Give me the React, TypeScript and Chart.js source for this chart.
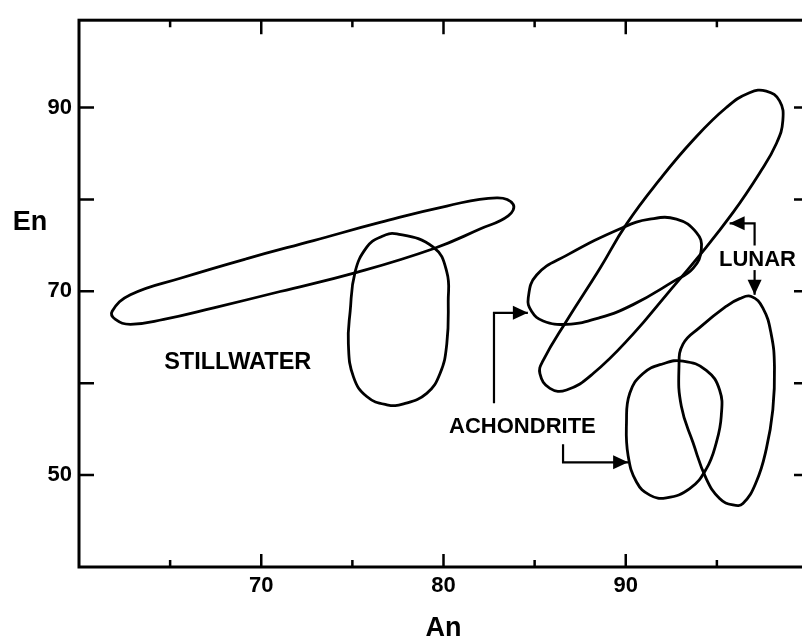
import React, { useEffect, useRef } from 'react';
import { Chart, registerables } from 'chart.js';

Chart.register(...registerables);

// ---- axes ----
const xMin = 60;
const xMax = 100;
const yMin = 40;
const yMax = 99.5;
const xLabelValues = [70, 80, 90];
const xMinorTicks = [65, 75, 85, 95];
const yTickValues = [50, 60, 70, 80, 90];
const yLabelValues = [50, 70, 90];
const xTitle = 'An';
const yTitle = 'En';

// ---- closed outlines [An, En] ----
const stillwaterBand = [
  [61.82, 67.83], [62.82, 69.62], [65.56, 71.42], [69.22, 73.56], [72.87, 75.52],
  [76.52, 77.49], [80.18, 79.28], [82.92, 80.17], [83.82, 79.46], [83.55, 78.2],
  [82.0, 76.78], [79.44, 74.63], [75.24, 72.06], [71.04, 69.98], [67.39, 68.2],
  [64.65, 66.94], [62.82, 66.41], [62.0, 66.94],
];
const stillwaterOval = [
  [77.44, 76.24], [79.44, 74.8], [80.18, 72.12], [80.26, 68.92], [80.18, 64.26],
  [79.81, 61.05], [79.08, 58.9], [77.81, 57.75], [76.89, 57.65], [75.79, 58.55],
  [75.06, 60.69], [74.78, 64.26], [74.88, 67.84], [75.15, 72.12], [75.79, 74.8],
  [76.52, 75.89],
];
const lunarBand = [
  [97.71, 91.79], [98.44, 90.72], [98.62, 88.57], [98.26, 86.06], [97.34, 82.85],
  [95.88, 78.56], [94.05, 73.91], [92.23, 69.62], [90.4, 65.34], [88.21, 61.05],
  [86.75, 59.26], [85.84, 59.44], [85.29, 61.05], [85.47, 62.48], [86.75, 66.77],
  [88.58, 72.49], [90.04, 77.31], [91.86, 82.14], [93.69, 86.43], [95.52, 90.0],
  [96.79, 91.61],
];
const achondriteUpper = [
  [84.65, 69.27], [85.11, 71.77], [86.75, 73.91], [89.85, 76.95], [91.32, 77.85],
  [92.78, 77.85], [93.87, 76.41], [94.15, 74.63], [93.69, 72.49], [92.59, 71.05],
  [90.4, 68.55], [88.58, 67.13], [86.75, 66.41], [85.47, 66.77], [84.83, 67.83],
];
const achondriteLower = [
  [93.14, 62.41], [94.42, 61.4], [95.15, 59.26], [95.24, 56.4], [94.97, 53.54],
  [94.42, 50.68], [93.51, 48.53], [92.23, 47.53], [91.32, 47.82], [90.59, 49.25],
  [90.13, 52.11], [90.04, 55.68], [90.22, 58.9], [90.95, 61.05], [92.05, 62.12],
];
const lunarLower = [
  [96.89, 69.44], [97.52, 68.2], [97.98, 65.34], [98.16, 61.76], [98.07, 57.11],
  [97.71, 52.82], [97.16, 49.25], [96.43, 46.92], [95.88, 46.75], [95.15, 47.46],
  [94.42, 49.6], [93.69, 53.54], [93.05, 57.48], [92.92, 61.76], [93.14, 64.26],
  [94.05, 66.05], [95.52, 68.38], [96.25, 69.2],
];

const outlines = [stillwaterBand, stillwaterOval, lunarBand, achondriteUpper, achondriteLower, lunarLower];
const outlineNames = ['Stillwater band', 'Stillwater oval', 'Lunar band', 'Achondrite upper', 'Achondrite lower', 'Lunar lower'];

// ---- annotations (data coordinates) ----
const labelTexts = ['STILLWATER', 'ACHONDRITE', 'LUNAR'];
const labelPositions = [[68.71, 62.23], [84.33, 55.25], [97.23, 73.38]];
const arrowAchondriteUp = [[82.77, 57.83], [82.77, 67.66], [84.63, 67.66]];
const arrowAchondriteDown = [[86.56, 53.36], [86.56, 51.39], [90.13, 51.39]];
const arrowLunarUp = [[97.07, 74.99], [97.07, 77.4], [95.7, 77.4]];
const arrowLunarDown = [[97.07, 72.31], [97.07, 69.62]];
const arrows = [arrowAchondriteUp, arrowAchondriteDown, arrowLunarUp, arrowLunarDown];

const FONT = '"Liberation Sans", Arial, Helvetica, sans-serif';
const LABEL_FONT_SIZES = [23.5, 22, 22];

const overlayPlugin = {
  id: 'overlay',
  afterDatasetsUpdate(chart: any) {
    chart.data.datasets.forEach((_: any, i: number) => {
      const meta = chart.getDatasetMeta(i);
      if (meta && meta.dataset) {
        meta.dataset._loop = true;
        meta.dataset._fullLoop = true;
      }
    });
  },
  afterDraw(chart: any) {
    const { ctx, chartArea: a } = chart;
    const x = chart.scales.x;
    const y = chart.scales.y;
    ctx.save();
    ctx.strokeStyle = '#000';
    ctx.fillStyle = '#000';

    // frame
    ctx.lineWidth = 3;
    ctx.lineCap = 'butt';
    ctx.strokeRect(a.left, a.top, a.right - a.left, a.bottom - a.top);

    // ticks
    ctx.lineWidth = 2.5;
    ctx.beginPath();
    yTickValues.forEach((v) => {
      const py = y.getPixelForValue(v);
      ctx.moveTo(a.left, py);
      ctx.lineTo(a.left + 15, py);
      ctx.moveTo(a.right, py);
      ctx.lineTo(a.right - 14, py);
    });
    xLabelValues.forEach((v) => {
      const px = x.getPixelForValue(v);
      ctx.moveTo(px, a.top);
      ctx.lineTo(px, a.top + 14);
      ctx.moveTo(px, a.bottom);
      ctx.lineTo(px, a.bottom - 13);
    });
    xMinorTicks.forEach((v) => {
      const px = x.getPixelForValue(v);
      ctx.moveTo(px, a.top);
      ctx.lineTo(px, a.top + 7);
      ctx.moveTo(px, a.bottom);
      ctx.lineTo(px, a.bottom - 7);
    });
    ctx.stroke();

    // axis titles
    ctx.font = `bold 27px ${FONT}`;
    ctx.textAlign = 'center';
    ctx.textBaseline = 'middle';
    ctx.fillText(yTitle, a.left - 49, 223);
    ctx.fillText(xTitle, (a.left + a.right) / 2, 629);

    // group labels
    labelTexts.forEach((t, i) => {
      const [vx, vy] = labelPositions[i];
      ctx.font = `bold ${LABEL_FONT_SIZES[i]}px ${FONT}`;
      ctx.fillText(t, x.getPixelForValue(vx), y.getPixelForValue(vy));
    });

    // arrows
    ctx.lineWidth = 2.2;
    arrows.forEach((pts) => {
      const pp = pts.map(([vx, vy]) => [x.getPixelForValue(vx), y.getPixelForValue(vy)]);
      ctx.beginPath();
      pp.forEach(([px, py], i) => (i === 0 ? ctx.moveTo(px, py) : ctx.lineTo(px, py)));
      ctx.stroke();
      const [tx, ty] = pp[pp.length - 1];
      const [sx, sy] = pp[pp.length - 2];
      const ang = Math.atan2(ty - sy, tx - sx);
      const len = 15;
      const hw = 7;
      const bx = tx - len * Math.cos(ang);
      const by = ty - len * Math.sin(ang);
      ctx.beginPath();
      ctx.moveTo(tx, ty);
      ctx.lineTo(bx + hw * Math.sin(ang), by - hw * Math.cos(ang));
      ctx.lineTo(bx - hw * Math.sin(ang), by + hw * Math.cos(ang));
      ctx.closePath();
      ctx.fill();
    });

    ctx.restore();
  },
};

export default function App() {
  const ref = useRef<HTMLCanvasElement | null>(null);

  useEffect(() => {
    if (!ref.current) return;
    const chart = new Chart(ref.current, {
      type: 'scatter',
      data: {
        datasets: outlines.map((pts, i) => ({
          label: outlineNames[i],
          data: pts.map(([px, py]) => ({ x: px, y: py })),
          showLine: true,
          spanGaps: true,
          borderColor: '#000',
          borderWidth: 2.8,
          pointRadius: 0,
          pointHoverRadius: 0,
          tension: 0.45,
          fill: false,
        })),
      },
      options: {
        responsive: false,
        animation: false,
        devicePixelRatio: 1,
        layout: { padding: { left: 0, right: 22, top: 12, bottom: 0 } },
        plugins: {
          legend: { display: false },
          tooltip: { enabled: false },
        },
        scales: {
          x: {
            type: 'linear',
            position: 'bottom',
            min: xMin,
            max: xMax,
            grid: { display: false, drawTicks: false },
            border: { display: false },
            ticks: {
              stepSize: 5,
              autoSkip: false,
              maxRotation: 0,
              padding: 6,
              color: '#000',
              font: { family: FONT, size: 22, weight: 'bold' },
              callback: (v: any) => (xLabelValues.includes(Number(v)) ? String(v) : ''),
            },
            afterFit: (s: any) => {
              s.height = 75;
            },
          },
          y: {
            type: 'linear',
            position: 'left',
            min: yMin,
            max: yMax,
            grid: { display: false, drawTicks: false },
            border: { display: false },
            ticks: {
              stepSize: 10,
              autoSkip: false,
              padding: 7,
              color: '#000',
              font: { family: FONT, size: 22, weight: 'bold' },
              callback: (v: any) => (yLabelValues.includes(Number(v)) ? String(v) : ''),
            },
            afterFit: (s: any) => {
              s.width = 79;
            },
          },
        },
      } as any,
      plugins: [overlayPlugin],
    });
    return () => chart.destroy();
  }, []);

  return (
    <div
      style={{
        position: 'fixed',
        left: 0,
        top: 0,
        width: 802,
        height: 642,
        overflow: 'hidden',
        background: '#fff',
      }}
    >
      <canvas ref={ref} width={830} height={642} style={{ display: 'block', width: 830, height: 642 }} />
    </div>
  );
}
